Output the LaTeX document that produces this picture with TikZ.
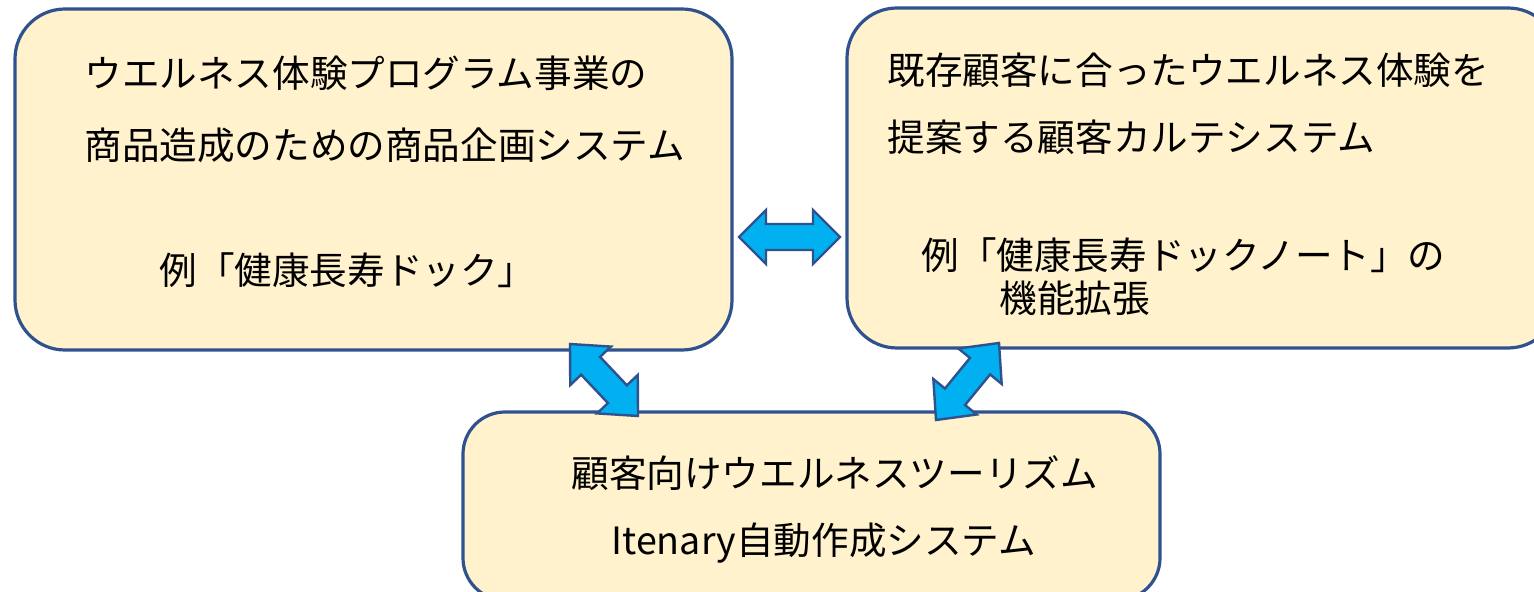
\documentclass[tikz,border=0pt]{standalone}
\usepackage{fontspec}
\setmainfont{Noto Sans CJK JP}
\usetikzlibrary{calc}
\definecolor{boxfill}{HTML}{FFF2CC}
\definecolor{boxline}{HTML}{2F528F}
\definecolor{arrfill}{HTML}{00B0F0}
\tikzset{
  panel/.style={draw=boxline, fill=boxfill, line width=1.6pt, rounded corners=25pt},
  lowpanel/.style={draw=boxline, fill=boxfill, line width=1.6pt, rounded corners=21pt},
  label/.style={anchor=west, inner sep=0pt, font=\fontsize{18.8pt}{22pt}\selectfont},
  blockarrow/.style={draw=boxline, fill=arrfill, line width=1.2pt, line join=miter},
}
\newcommand\dblarr[5]{%
  \path ($(#1)!#3!(#2)$) coordinate (ah) ($(#2)!#3!(#1)$) coordinate (bh);
  \draw[blockarrow] (#1) -- ($(ah)!#4!90:(#1)$) -- ($(ah)!#5!90:(#1)$)
    -- ($(bh)!#5!-90:(#2)$) -- ($(bh)!#4!-90:(#2)$) -- (#2)
    -- ($(bh)!#4!90:(#2)$) -- ($(bh)!#5!90:(#2)$)
    -- ($(ah)!#5!-90:(#1)$) -- ($(ah)!#4!-90:(#1)$) -- cycle;
}
\begin{document}
\begin{tikzpicture}[x=0.5pt, y=-0.5pt]
\useasboundingbox (0,0) rectangle (1534,592);
\clip (0,0) rectangle (1534,592);
\fill[white] (0,0) rectangle (1534,592);
% boxes
\draw[panel] (15,9) rectangle (732,350);
\path (15,9) coordinate (L1) (732,350) coordinate (L2);
\draw[panel] (847,8) rectangle (1558,348);
\path (847,8) coordinate (R1) (1558,348) coordinate (R2);
\draw[lowpanel] (463,412) rectangle (1160,600);
\path (463,412) coordinate (B1) (1160,600) coordinate (B2);
% texts left
\node[label] (l1) at (84,73) {ウエルネス体験プログラム事業の};
\node[label] (l2) at (84,145) {商品造成のための商品企画システム};
\node[label] (l3) at (159,270) {例「健康長寿ドック」};
% texts right
\node[label] (r1) at (887,70) {既存顧客に合ったウエルネス体験を};
\node[label] (r2) at (887,137) {提案する顧客カルテシステム};
\node[label] (r3) at (921,255) {例「健康長寿ドックノート」の};
\node[label] (r4) at (999,298) {機能拡張};
% texts bottom
\node[label] (b1) at (571,473) {顧客向けウエルネスツーリズム};
\node[label] (b2) at (611,543) {Itenary自動作成システム};
% arrows
\coordinate (h1) at (739,237);
\coordinate (h2) at (840,237);
\dblarr{h1}{h2}{13.5pt}{13.5pt}{6.5pt}
\coordinate (d1) at (570,344);
\coordinate (d2) at (638,416);
\dblarr{d1}{d2}{15pt}{14pt}{6.5pt}
\coordinate (e1) at (999,343);
\coordinate (e2) at (936,420);
\dblarr{e1}{e2}{15pt}{14pt}{6.5pt}
\end{tikzpicture}
\end{document}
